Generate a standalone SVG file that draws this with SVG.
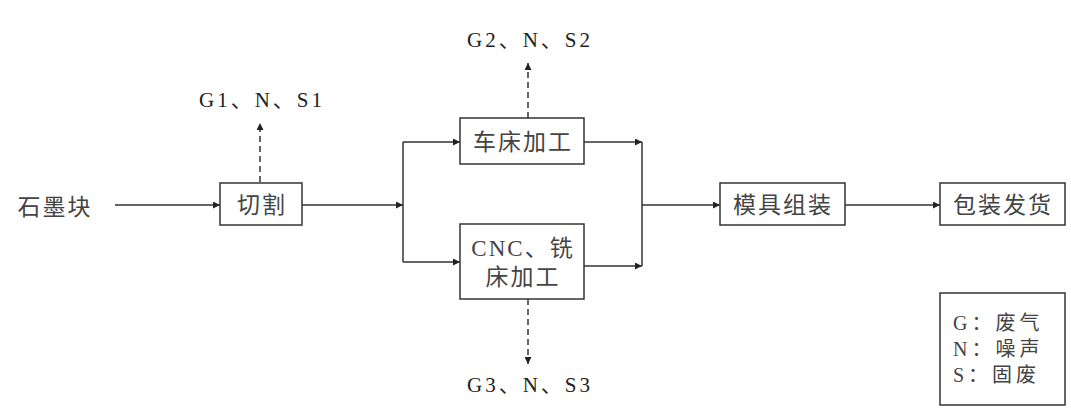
<svg xmlns="http://www.w3.org/2000/svg" width="1071" height="414" viewBox="0 0 1071 414">
<style>
.box{fill:#fff;stroke:#333;stroke-width:1.5}
.cn{font-family:"Liberation Serif","Noto Sans CJK SC",sans-serif;font-size:23px;fill:#444;text-anchor:middle;letter-spacing:2px}
.lbl{font-family:"Liberation Serif","Noto Sans CJK SC",serif;font-size:21px;fill:#222;text-anchor:middle;letter-spacing:3px}
.leg{font-family:"Liberation Serif","Noto Sans CJK SC",serif;font-size:20px;fill:#444;letter-spacing:4px}
.ln{fill:none;stroke:#333;stroke-width:1.5}
.dash{fill:none;stroke:#333;stroke-width:1.5;stroke-dasharray:6,4}
</style>
<defs>
<marker id="ah" viewBox="0 0 10 10" refX="10" refY="5" markerWidth="7" markerHeight="7" markerUnits="userSpaceOnUse" orient="auto">
<path d="M0,0 L10,5 L0,10 z" fill="#222"/>
</marker>
</defs>
<rect width="1071" height="414" fill="#fff"/>
<g id="connectors">
<path class="ln" d="M115,205 H220" marker-end="url(#ah)"/>
<path class="dash" d="M260,182 V123" marker-end="url(#ah)"/>
<path class="ln" d="M302,205 H403" marker-end="url(#ah)"/>
<path class="ln" d="M403,142 V262"/>
<path class="ln" d="M403,142 H460" marker-end="url(#ah)"/>
<path class="ln" d="M403,262 H460" marker-end="url(#ah)"/>
<path class="dash" d="M528,118 V63" marker-end="url(#ah)"/>
<path class="dash" d="M528,299 V364" marker-end="url(#ah)"/>
<path class="ln" d="M584,142 H642" marker-end="url(#ah)"/>
<path class="ln" d="M584,266 H642" marker-end="url(#ah)"/>
<path class="ln" d="M642,142 V266"/>
<path class="ln" d="M642,205 H720" marker-end="url(#ah)"/>
<path class="ln" d="M845,205 H940" marker-end="url(#ah)"/>
</g>
<g id="n-start"><text class="cn" x="55" y="215">石墨块</text></g>
<g id="n-cut"><rect class="box" x="220" y="183" width="82" height="42"/><text class="cn" x="262" y="213">切割</text></g>
<g id="n-lathe"><rect class="box" x="460" y="118" width="124" height="46"/><text class="cn" x="523" y="150">车床加工</text></g>
<g id="n-cnc"><rect class="box" x="460" y="224" width="124" height="75"/><text class="cn" x="523" y="256">CNC、铣</text><text class="cn" x="523" y="285">床加工</text></g>
<g id="n-assemble"><rect class="box" x="720" y="183" width="125" height="42"/><text class="cn" x="783" y="213">模具组装</text></g>
<g id="n-pack"><rect class="box" x="940" y="183" width="125" height="42"/><text class="cn" x="1003" y="213">包装发货</text></g>
<g id="l-g1"><text class="lbl" x="262" y="107">G1、N、S1</text></g>
<g id="l-g2"><text class="lbl" x="530" y="47">G2、N、S2</text></g>
<g id="l-g3"><text class="lbl" x="530" y="392">G3、N、S3</text></g>
<g id="legend"><rect class="box" x="940" y="293" width="125" height="112"/>
<text class="leg" x="953" y="330">G：废气</text>
<text class="leg" x="953" y="356">N：噪声</text>
<text class="leg" x="953" y="382">S：固废</text>
</g>
</svg>
